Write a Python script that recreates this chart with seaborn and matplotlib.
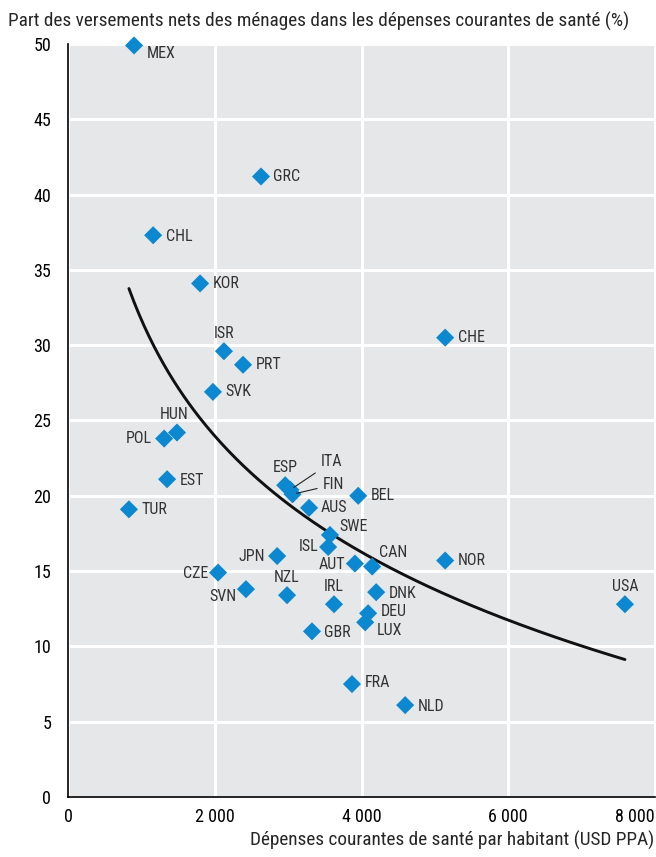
import numpy as np
import pandas as pd
import matplotlib
matplotlib.use("Agg")
import matplotlib.pyplot as plt
from matplotlib.ticker import FuncFormatter
import seaborn as sns

# Data
countries = ["MEX", "GRC", "CHL", "KOR", "ISR", "PRT", "SVK", "HUN", "POL", "EST",
             "TUR", "CHE", "ESP", "ITA", "FIN", "BEL", "AUS", "SWE", "ISL", "JPN",
             "CAN", "AUT", "NOR", "CZE", "SVN", "NZL", "DNK", "IRL", "DEU", "LUX",
             "GBR", "USA", "FRA", "NLD"]
spending = [900, 2630, 1160, 1800, 2125, 2385, 1975, 1485, 1310, 1350,
            830, 5140, 2960, 3030, 3060, 3955, 3285, 3570, 3545, 2850,
            4145, 3910, 5140, 2045, 2425, 2985, 4200, 3625, 4090, 4050,
            3325, 7590, 3870, 4595]
oop_share = [49.9, 41.2, 37.3, 34.1, 29.6, 28.7, 26.9, 24.2, 23.8, 21.1,
             19.1, 30.5, 20.7, 20.4, 20.1, 20.0, 19.2, 17.4, 16.6, 16.0,
             15.3, 15.5, 15.7, 14.9, 13.8, 13.4, 13.6, 12.8, 12.2, 11.6,
             11.0, 12.8, 7.5, 6.1]

# label placement: (dx, dy) in points, ha
label_pos = {
    "MEX": (9, -6, "left"), "GRC": (9, 0, "left"), "CHL": (9, -1, "left"),
    "KOR": (9, 0, "left"), "ISR": (0, 13, "center"), "PRT": (9, 0, "left"),
    "SVK": (9, 0, "left"), "HUN": (-2, 13, "center"), "POL": (-9, 0, "right"),
    "EST": (9, -1, "left"), "TUR": (9, 0, "left"), "CHE": (9, 0, "left"),
    "ESP": (0, 13, "center"), "BEL": (9, 0, "left"), "AUS": (8, 0, "left"),
    "SWE": (7, 6, "left"), "ISL": (-7, 0, "right"), "JPN": (-9, 0, "right"),
    "CAN": (5, 10, "left"), "AUT": (-7, -1, "right"), "NOR": (9, 0, "left"),
    "CZE": (-7, -1, "right"), "SVN": (-7, -5, "right"), "NZL": (0, 13, "center"),
    "DNK": (9, -1, "left"), "IRL": (0, 13, "center"), "DEU": (9, 1, "left"),
    "LUX": (8, -6, "left"), "GBR": (9, -1, "left"), "USA": (0, 13, "center"),
    "FRA": (9, 1, "left"), "NLD": (9, -1, "left"),
}
leader_pos = {"ITA": (22, 20), "FIN": (22, 7)}

df = pd.DataFrame({"country": countries, "spending": spending, "share": oop_share})

# logarithmic trend fitted on the data
b, a = np.polyfit(np.log(df["spending"]), df["share"], 1)
trend_x = np.linspace(df["spending"].min(), df["spending"].max(), 200)
trend = pd.DataFrame({"x": trend_x, "y": a + b * np.log(trend_x)})

sns.set_style("white", {"axes.facecolor": "#e6e7e8"})
plt.rcParams["font.family"] = ["Roboto Condensed", "Sofia Sans Semi Condensed", "DejaVu Sans"]

fig, ax = plt.subplots(figsize=(6.56, 8.57), dpi=100)
fig.subplots_adjust(left=0.1037, right=0.9985, top=0.9487, bottom=0.070)

ax.set_axisbelow(True)
ax.grid(True, color="white", linewidth=2.2)

sns.lineplot(data=trend, x="x", y="y", color="#111111", linewidth=2.1, ax=ax, zorder=2)
sns.scatterplot(data=df, x="spending", y="share", marker="D", s=85, color="#0b88d0",
                edgecolor="none", ax=ax, zorder=3, clip_on=False)

for _, r in df.iterrows():
    c = r["country"]
    if c in label_pos:
        dx, dy, ha = label_pos[c]
        ax.annotate(c, (r["spending"], r["share"]), xytext=(dx, dy), textcoords="offset points",
                    ha=ha, va="center", fontsize=11.5, color="#333333", zorder=4)
    else:
        dx, dy = leader_pos[c]
        ax.annotate(c, (r["spending"], r["share"]), xytext=(dx, dy), textcoords="offset points",
                    ha="left", va="center", fontsize=11.5, color="#333333", zorder=4,
                    arrowprops=dict(arrowstyle="-", color="#222222", lw=0.8,
                                    shrinkA=2, shrinkB=3))

ax.set_xlim(0, 8000)
ax.set_ylim(0, 50)
ax.set_xticks([0, 2000, 4000, 6000, 8000])
ax.set_yticks(range(0, 51, 5))
ax.xaxis.set_major_formatter(FuncFormatter(lambda v, p: f"{int(v):,}".replace(",", " ")))
ax.tick_params(axis="both", direction="in", length=4, width=1, labelsize=13, colors="black")
ax.tick_params(axis="x", pad=8)
ax.tick_params(axis="y", pad=12)
ax.get_xticklabels()[-1].set_ha("right")

for s in ["top", "right"]:
    ax.spines[s].set_visible(False)
for s in ["left", "bottom"]:
    ax.spines[s].set_color("black")
    ax.spines[s].set_linewidth(1.2)

ax.set_xlabel("")
ax.set_ylabel("")
fig.text(0.012, 0.975, "Part des versements nets des ménages dans les dépenses courantes de santé (%)",
         ha="left", va="center", fontsize=13.9)
fig.text(0.998, 0.008, "Dépenses courantes de santé par habitant (USD PPA)",
         ha="right", va="bottom", fontsize=13.9)

plt.savefig("out.png", dpi=100)
